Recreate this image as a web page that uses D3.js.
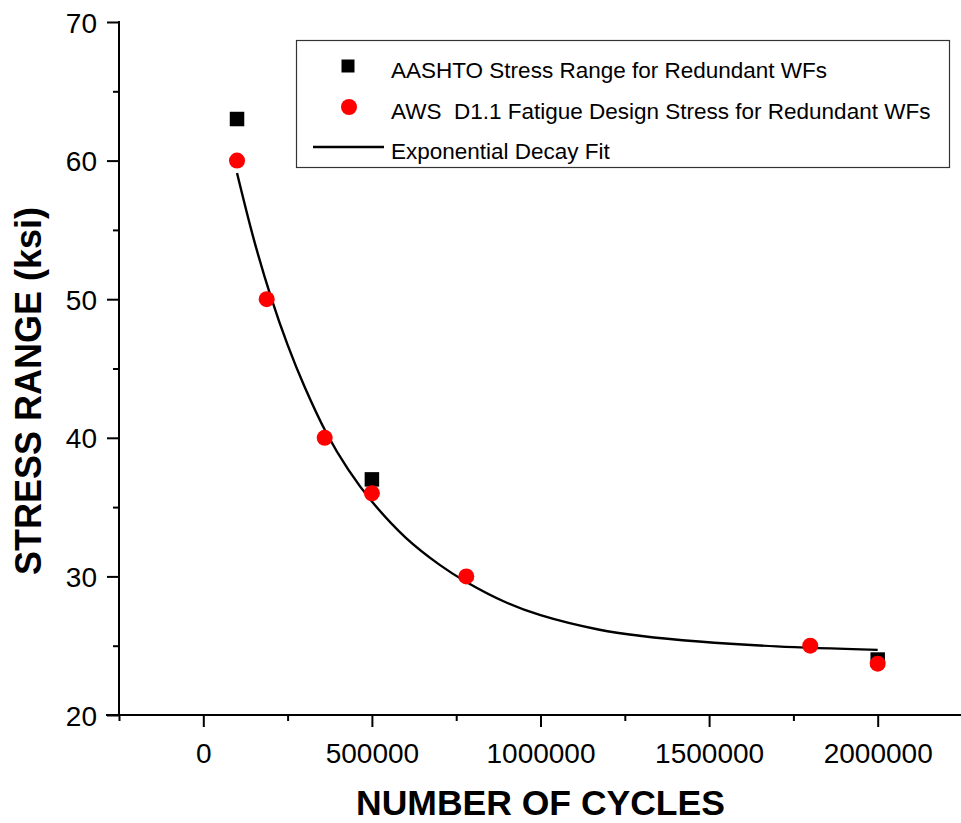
<!DOCTYPE html>
<html>
<head>
<meta charset="utf-8">
<script src="https://cdn.jsdelivr.net/npm/d3@7"></script>
<style>
  html, body { margin: 0; padding: 0; background: #fff; }
  svg text { font-family: Arial, "Liberation Sans", sans-serif; }
</style>
</head>
<body>
<svg id="chart" width="961" height="823"></svg>
<script>
// AASHTO stress range for redundant WFs (cycles, ksi)
const aashtoCycles = [100000, 500000, 2000000];
const aashtoStress = [63, 37, 24];

// AWS D1.1 fatigue design stress for redundant WFs (cycles, ksi)
const awsCycles = [100000, 188000, 360000, 500000, 780000, 1800000, 2000000];
const awsStress = [60, 50, 40, 36, 30, 25, 23.7];

// Exponential decay fit, sampled along the fitted curve (cycles, ksi)
const fitCycles = [100000, 150000, 200000, 250000, 300000, 364000, 430000, 500000, 600000, 700000, 780000, 900000, 1000000, 1175000, 1300000, 1470000, 1700000, 2000000];
const fitStress = [59.1, 54.3, 50.2, 46.7, 43.7, 40.4, 37.7, 35.4, 32.8, 30.85, 29.6, 28.1, 27.2, 26.15, 25.7, 25.3, 24.95, 24.7];

// Axis ticks
const xMajorTicks = [0, 500000, 1000000, 1500000, 2000000];
const xMinorTicks = [-250000, 250000, 750000, 1250000, 1750000, 2250000];
const yMajorTicks = [20, 30, 40, 50, 60, 70];
const yMinorTicks = [25, 35, 45, 55, 65];

// Legend entries
const legendLabels = [
  "AASHTO Stress Range for Redundant WFs",
  "AWS  D1.1 Fatigue Design Stress for Redundant WFs",
  "Exponential Decay Fit"
];

const svg = d3.select("#chart");

const x = d3.scaleLinear().domain([-250000, 2250000]).range([119, 962]);
const y = d3.scaleLinear().domain([20, 70]).range([715, 22]);

const axisColor = "#000";

// x axis: major ticks with labels, minor ticks without
const gx = svg.append("g").attr("transform", `translate(0,${y(20)})`);
gx.call(d3.axisBottom(x).tickValues(xMajorTicks).tickSize(12).tickPadding(16).tickFormat(d3.format("d")));
const gxMinor = svg.append("g").attr("transform", `translate(0,${y(20)})`);
gxMinor.call(d3.axisBottom(x).tickValues(xMinorTicks).tickSize(6).tickFormat(""));

// y axis
const gy = svg.append("g").attr("transform", `translate(${x(-250000)},0)`);
gy.call(d3.axisLeft(y).tickValues(yMajorTicks).tickSize(12).tickPadding(10).tickFormat(d3.format("d")));
const gyMinor = svg.append("g").attr("transform", `translate(${x(-250000)},0)`);
gyMinor.call(d3.axisLeft(y).tickValues(yMinorTicks).tickSize(6).tickFormat(""));

[gx, gxMinor, gy, gyMinor].forEach(g => {
  g.select(".domain").remove();
  g.selectAll(".tick line").attr("stroke", axisColor).attr("stroke-width", 2);
  g.selectAll(".tick text").attr("fill", "#000").style("font-size", "28px").style("font-family", "Arial, 'Liberation Sans', sans-serif");
});
gx.selectAll(".tick text").attr("dy", "0.71em");
gy.selectAll(".tick text").attr("dy", "0.36em");

// axis lines
svg.append("line")
  .attr("x1", x(-250000) - 13).attr("x2", x(2250000))
  .attr("y1", y(20)).attr("y2", y(20))
  .attr("stroke", axisColor).attr("stroke-width", 2);
svg.append("line")
  .attr("x1", x(-250000)).attr("x2", x(-250000))
  .attr("y1", y(70) - 1).attr("y2", y(20))
  .attr("stroke", axisColor).attr("stroke-width", 2);

// axis titles
svg.append("text")
  .attr("x", (x(-250000) + x(2250000)) / 2)
  .attr("y", 815)
  .attr("text-anchor", "middle")
  .style("font-size", "35.5px").style("font-weight", "bold")
  .text("NUMBER OF CYCLES");

svg.append("text")
  .attr("transform", "translate(41,391) rotate(-90)")
  .attr("text-anchor", "middle")
  .style("font-size", "36px").style("font-weight", "bold")
  .text("STRESS RANGE (ksi)");

// fit curve
const fitData = fitCycles.map((c, i) => [c, fitStress[i]]);
svg.append("path")
  .datum(fitData)
  .attr("fill", "none")
  .attr("stroke", "#000")
  .attr("stroke-width", 2.4)
  .attr("d", d3.line().x(d => x(d[0])).y(d => y(d[1])).curve(d3.curveCatmullRom.alpha(0.5)));

// AASHTO squares
const sq = 14.5;
svg.append("g").selectAll("rect")
  .data(aashtoCycles.map((c, i) => [c, aashtoStress[i]]))
  .join("rect")
  .attr("x", d => x(d[0]) - sq / 2)
  .attr("y", d => y(d[1]) - sq / 2)
  .attr("width", sq).attr("height", sq)
  .attr("fill", "#000");

// AWS circles
svg.append("g").selectAll("circle")
  .data(awsCycles.map((c, i) => [c, awsStress[i]]))
  .join("circle")
  .attr("cx", d => x(d[0]))
  .attr("cy", d => y(d[1]))
  .attr("r", 8)
  .attr("fill", "#ff0000");

// legend
const lg = svg.append("g");
lg.append("rect")
  .attr("x", 296.5).attr("y", 40.5)
  .attr("width", 653).attr("height", 127)
  .attr("fill", "#fff").attr("stroke", "#333").attr("stroke-width", 1.2);

const rowY = [66, 107, 147];
lg.append("rect")
  .attr("x", 348 - 6.5).attr("y", rowY[0] - 6.5)
  .attr("width", 13).attr("height", 13).attr("fill", "#000");
lg.append("circle")
  .attr("cx", 349).attr("cy", rowY[1]).attr("r", 8).attr("fill", "#ff0000");
lg.append("line")
  .attr("x1", 313).attr("x2", 384)
  .attr("y1", rowY[2]).attr("y2", rowY[2])
  .attr("stroke", "#000").attr("stroke-width", 2.4);

lg.selectAll("text.lbl")
  .data(legendLabels)
  .join("text")
  .attr("class", "lbl")
  .attr("x", 391)
  .attr("y", (d, i) => rowY[i] + 12)
  .style("font-size", "22.5px")
  .style("white-space", "pre")
  .text(d => d);
</script>
</body>
</html>
